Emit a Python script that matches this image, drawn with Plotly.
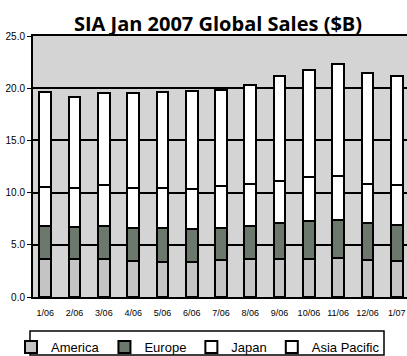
import plotly.graph_objects as go

months = ["1/06", "2/06", "3/06", "4/06", "5/06", "6/06", "7/06",
          "8/06", "9/06", "10/06", "11/06", "12/06", "1/07"]
america = [3.67, 3.63, 3.63, 3.48, 3.35, 3.35, 3.57, 3.63, 3.67, 3.67, 3.73, 3.50, 3.48]
europe = [3.11, 3.08, 3.18, 3.11, 3.24, 3.15, 3.02, 3.18, 3.46, 3.62, 3.65, 3.56, 3.42]
japan = [3.77, 3.69, 3.94, 3.87, 3.87, 3.80, 4.03, 4.00, 3.99, 4.21, 4.19, 3.81, 3.81]
asia_pacific = [9.05, 8.76, 8.82, 9.08, 9.21, 9.40, 9.24, 9.52, 10.07, 10.26, 10.73, 10.58, 10.48]
y_ticks = [0, 5, 10, 15, 20, 25]

sans = "Liberation Sans, Arial, sans-serif"

series = [
    ("America", america, "#c4c4c4"),
    ("Europe", europe, "#6c786c"),
    ("Japan", japan, "#ffffff"),
    ("Asia Pacific", asia_pacific, "#ffffff"),
]

fig = go.Figure()
for name, vals, color in series:
    fig.add_trace(go.Bar(
        x=months, y=vals, name=name,
        marker=dict(color=color, line=dict(color="black", width=2)),
    ))

# plot area: x 33..407, y 36..297 (pixels)
W, H = 407, 356
L, R, T, B = 33, 0, 36, 59
pw, ph = W - L - R, H - T - B


def px_x(p):
    return (p - L) / pw


def px_y(p):
    return (H - B - p) / ph


fig.update_layout(
    width=W, height=H,
    barmode="stack", bargap=0.6,
    paper_bgcolor="white", plot_bgcolor="#d4d4d4",
    margin=dict(l=L, r=R, t=T, b=B),
    title=dict(text="<b>SIA Jan 2007 Global Sales ($B)</b>",
               font=dict(family="Open Sans, sans-serif", size=20, color="black"),
               x=218 / W, xanchor="center", xref="container",
               y=1 - 24 / H, yanchor="middle", yref="container"),
    showlegend=True,
    legend=dict(orientation="h", traceorder="normal",
                x=11 / W, xanchor="left", xref="container",
                y=1 - 332 / H, yanchor="top", yref="container",
                borderwidth=0, bgcolor="rgba(0,0,0,0)",
                font=dict(family=sans, size=13, color="black"),
                itemclick=False),
    shapes=[dict(type="rect", xref="paper", yref="paper",
                 x0=px_x(30), x1=px_x(384), y0=px_y(355), y1=px_y(331),
                 line=dict(color="black", width=1.5), fillcolor="rgba(0,0,0,0)",
                 layer="above")],
    font=dict(family=sans, color="black"),
)

fig.update_xaxes(
    range=[-0.42, 12.35],
    showline=True, linecolor="black", linewidth=2, mirror=True,
    showgrid=False, ticks="", ticklabelstandoff=6,
    tickfont=dict(family=sans, size=9, color="black"),
)
fig.update_yaxes(
    range=[0, 25], tickvals=y_ticks, tickformat=".1f",
    showline=True, linecolor="black", linewidth=2,
    showgrid=True, gridcolor="black", gridwidth=1.5,
    ticks="outside", ticklen=4, tickcolor="black", tickwidth=1,
    tickfont=dict(family=sans, size=10, color="black"),
    zeroline=False,
)

fig.write_html("out.html")
